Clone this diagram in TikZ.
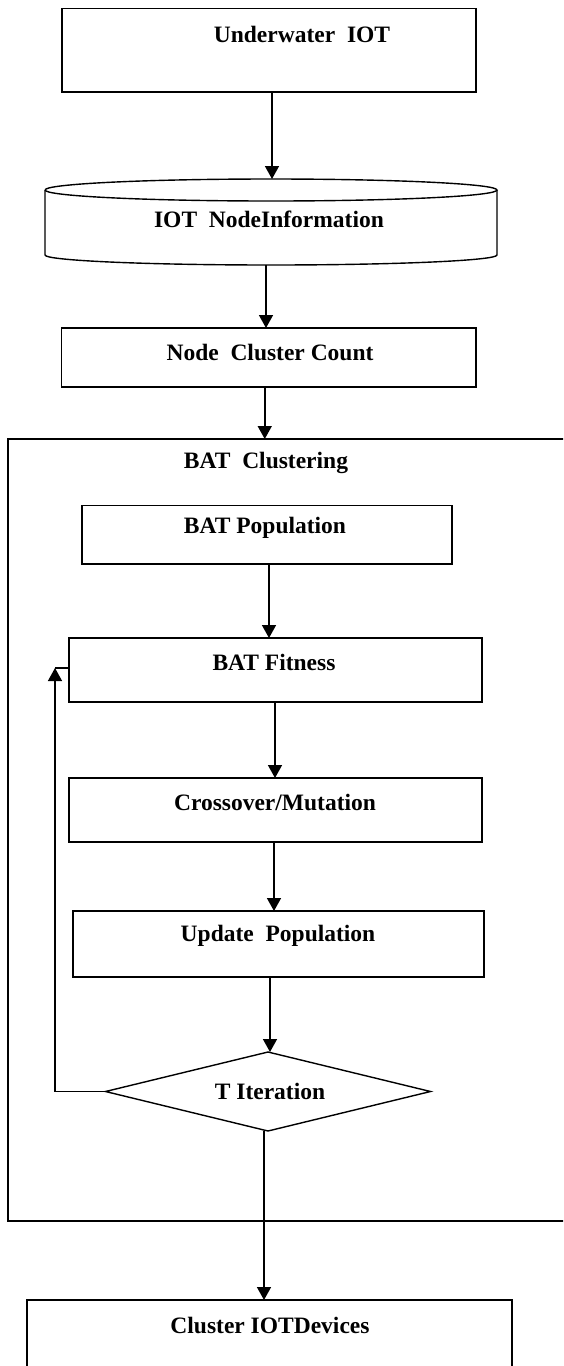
\documentclass[tikz,border=0pt]{standalone}
\usepackage{fontspec}
\setmainfont{Liberation Serif}
\usetikzlibrary{arrows.meta,shapes.geometric}
\begin{document}
\begin{tikzpicture}[x=1pt,y=-1pt,
  every node/.style={inner sep=0pt, outer sep=0pt},
  box/.style={draw, line width=1.4pt, rectangle},
  txt/.style={font=\fontsize{23.5}{28}\selectfont\bfseries},
  arr/.style={line width=1.5pt, -{Triangle[length=13pt,width=14pt]}},
  ln/.style={line width=1.4pt}]
\useasboundingbox (0,0) rectangle (563,1366);
\clip (0,0) rectangle (563,1366);
\fill[white] (0,0) rectangle (563,1366);
% boxes
\node[box, minimum width=414pt, minimum height=83.5pt] (uw) at (269,50.25) {};
\node[txt] (uwt) at (302,34) {Underwater\ \ IOT};
\node[minimum width=452pt, minimum height=86pt] (cyl) at (271,222) {};
\draw[ln] ([yshift=-11pt]cyl.north west) arc[start angle=180, end angle=-180, x radius=226pt, y radius=11pt];
\draw[ln] ([yshift=-11pt]cyl.north west) -- ([yshift=10pt]cyl.south west)
  arc[start angle=180, end angle=360, x radius=226pt, y radius=10pt]
  -- ([yshift=-11pt]cyl.north east);
\node[txt] (cylt) at (269,219) {IOT\ \ NodeInformation};
\node[box, minimum width=414.5pt, minimum height=59pt] (ncc) at (268.75,357.5) {};
\node[txt] (ncct) at (270,352) {Node\ \ Cluster Count};
\node[box, minimum width=567pt, minimum height=782pt] (bat) at (291.5,830) {};
\node[txt] (batt) at (266,463) {BAT\ \ Clustering};
\node[box, minimum width=370pt, minimum height=58.3pt] (pop) at (267,534.85) {};
\node[txt] (popt) at (265,528) {BAT Population};
\node[box, minimum width=413pt, minimum height=64pt] (fit) at (275.5,670) {};
\node[txt] (fitt) at (274,662) {BAT Fitness};
\node[box, minimum width=413pt, minimum height=64pt] (cross) at (275.5,810) {};
\node[txt] (crosst) at (275,802) {Crossover/Mutation};
\node[box, minimum width=411pt, minimum height=66pt] (upd) at (278.5,944) {};
\node[txt] (updt) at (278,936) {Update\ \ Population};
\node[draw, line width=1.4pt, diamond, minimum width=325pt, minimum height=79pt] (dia) at (268,1091.5) {};
\node[txt] (diat) at (270,1091) {T Iteration};
\node[box, minimum width=485pt, minimum height=90pt] (out) at (269.5,1345) {};
\node[txt] (outt) at (270,1325) {Cluster IOTDevices};
% connectors
\draw[arr] ([xshift=3pt]uw.south) -- ([xshift=3pt]uw.south |- cyl.north);
\draw[arr] ([xshift=-5pt]cyl.south) -- ([xshift=-5pt]cyl.south |- ncc.north);
\draw[arr] ([xshift=-4pt]ncc.south) -- ([xshift=-4pt]ncc.south |- bat.north);
\draw[arr] ([xshift=2pt]pop.south) -- ([xshift=2pt]pop.south |- fit.north);
\draw[arr] ([xshift=-0.5pt]fit.south) -- ([xshift=-0.5pt]fit.south |- cross.north);
\draw[arr] ([xshift=-1.5pt]cross.south) -- ([xshift=-1.5pt]cross.south |- upd.north);
\draw[arr] ([xshift=-8.5pt]upd.south) -- ([xshift=-8.5pt]upd.south |- dia.north);
\draw[arr] ([xshift=-4pt]dia.south) -- ([xshift=-4pt]dia.south |- out.north);
\coordinate (lp) at (55,668);
\draw[arr] (dia.west) -| (lp);
\draw[ln] (lp) -- (lp -| fit.west);
\end{tikzpicture}
\end{document}
